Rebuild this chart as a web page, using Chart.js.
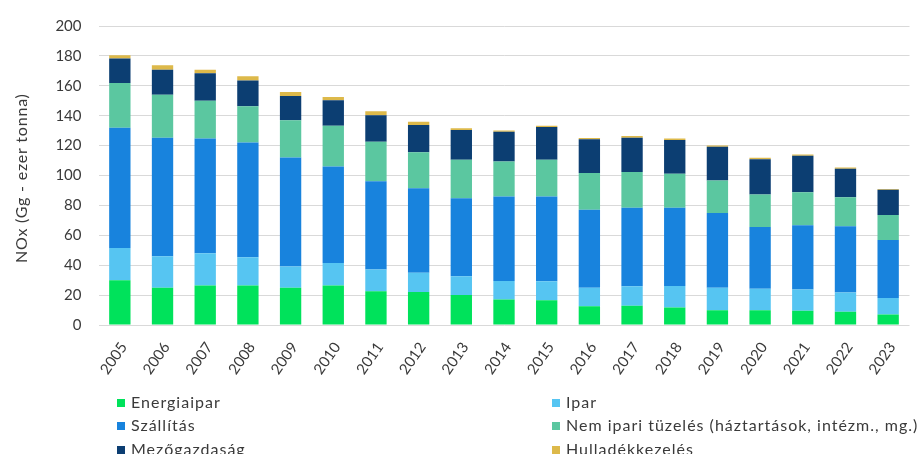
<!DOCTYPE html>
<html>
<head>
<meta charset="utf-8">
<script src="https://cdn.jsdelivr.net/npm/chart.js@4.4.1/dist/chart.umd.min.js"></script>
<style>
  html, body { margin: 0; padding: 0; background: #ffffff; }
  #wrap { position: relative; width: 920px; height: 454px; overflow: hidden; }
  #c { position: absolute; left: 0; top: 0; }
  .lg { position: absolute; font-family: Lato, "Open Sans", sans-serif; font-size: 16px; letter-spacing: 1px; color: #3a3a3a; white-space: nowrap; line-height: 18px; }
  .lg span.sw { display: inline-block; width: 8px; height: 8px; margin-right: 6px; vertical-align: 1px; }
  #ytitle { position: absolute; font-family: Lato, "Open Sans", sans-serif; font-size: 16px; color: #3a3a3a; white-space: nowrap; line-height: 16px; transform-origin: center center; }
</style>
</head>
<body>
<div id="wrap">
  <canvas id="c" width="920" height="454"></canvas>
  <div id="legend"></div>
  <div id="ytitle"></div>
</div>
<script>
const years = ["2005","2006","2007","2008","2009","2010","2011","2012","2013","2014","2015","2016","2017","2018","2019","2020","2021","2022","2023"];
const energiaipar = [30, 25, 26.5, 26.5, 25, 26.5, 22.5, 22, 20, 17, 16.6, 12.6, 12.8, 11.7, 9.9, 9.9, 9.5, 8.8, 7.1];
const ipar = [21.5, 21, 21.5, 18.8, 14.1, 15, 14.6, 12.9, 12.6, 12.4, 12.6, 12.4, 13.1, 14.4, 15.1, 14.4, 14.2, 12.9, 11];
const szallitas = [80.4, 79.3, 76.8, 76.7, 72.9, 64.5, 59, 56.6, 52.2, 56.6, 56.8, 52.1, 52.5, 52.3, 49.9, 41.3, 43.1, 44.4, 38.7];
const nemIpari = [30, 28.7, 25.2, 24.3, 25, 27.2, 26.5, 24.1, 25.8, 23.4, 24.5, 24.5, 23.9, 22.8, 21.7, 21.7, 22, 19.4, 16.8];
const mezogazdasag = [16.3, 16.8, 18.4, 17.2, 16.1, 17.1, 17.7, 18.1, 19.9, 19.9, 21.9, 22.6, 23, 22.5, 22.7, 23.6, 24.4, 19, 16.8];
const hulladek = [2.2, 3, 2.4, 2.9, 2.7, 2.2, 2.7, 2.2, 1.1, 0.8, 0.8, 0.9, 1.1, 1.1, 0.7, 0.9, 0.8, 0.9, 0.6];
const seriesNames = ["Energiaipar", "Ipar", "Szállítás", "Nem ipari tüzelés (háztartások, intézm., mg.)", "Mezőgazdaság", "Hulladékkezelés"];
const yTicks = [0, 20, 40, 60, 80, 100, 120, 140, 160, 180, 200];
const yTitle = "NOx (Gg - ezer tonna)";

const colors = ["#00E25B", "#56C5F2", "#1883DD", "#5BC7A0", "#0C3E72", "#DDB94A"];
const values = [energiaipar, ipar, szallitas, nemIpari, mezogazdasag, hulladek];

const datasets = values.map((v, i) => ({
  label: seriesNames[i],
  data: v,
  backgroundColor: colors[i],
  borderWidth: 0,
  categoryPercentage: 0.5,
  barPercentage: 1.0
}));

const canvas = document.getElementById('c');
const ctx = canvas.getContext('2d');
if ('letterSpacing' in ctx) ctx.letterSpacing = '1px';

const FONT = "Lato, 'Open Sans', sans-serif";
const chart = new Chart(ctx, {
  type: 'bar',
  data: { labels: years, datasets: datasets },
  options: {
    responsive: false,
    animation: false,
    devicePixelRatio: 1,
    layout: { padding: { left: 0, right: 10.5, top: 23, bottom: 75 } },
    plugins: { legend: { display: false }, tooltip: { enabled: false } },
    scales: {
      x: {
        stacked: true,
        grid: { display: false, drawTicks: false },
        border: { display: false },
        ticks: {
          color: '#3a3a3a',
          font: { family: FONT, size: 15 },
          minRotation: 55, maxRotation: 55,
          padding: 14,
          labelOffset: 4,
          autoSkip: false
        },
        afterFit: (s) => { s.height = 54; }
      },
      y: {
        stacked: true,
        min: 0, max: 200,
        afterBuildTicks: (s) => { s.ticks = yTicks.map(v => ({ value: v })); },
        grid: { color: '#D9D9D9', lineWidth: 1, drawTicks: false },
        border: { display: false },
        ticks: { color: '#3a3a3a', font: { family: FONT, size: 15 }, padding: 17 },
        afterFit: (s) => { s.width = 98.5; }
      }
    }
  }
});

// Rotated y-axis title (HTML text), centred on the chart area
const yt = document.getElementById('ytitle');
yt.textContent = yTitle;
const mctx = document.createElement('canvas').getContext('2d');
mctx.font = "16px " + FONT;
const natural = mctx.measureText(yTitle).width;
const targetLen = 170;
const ls = Math.max(0, (targetLen - natural) / yTitle.length);
yt.style.letterSpacing = ls.toFixed(2) + 'px';
const ytW = natural + ls * yTitle.length;
const ca = chart.chartArea;
const cy = (ca.top + ca.bottom) / 2 + 2;
yt.style.width = ytW + 'px';
yt.style.left = (20.5 - ytW / 2) + 'px';
yt.style.top = (cy - 8) + 'px';
yt.style.transform = 'rotate(-90deg)';

// HTML legend built from chart datasets, two columns, row-major order
const leg = document.getElementById('legend');
const colX = [117, 552];
const rowY = [393, 416, 440];
chart.data.datasets.forEach((ds, i) => {
  const d = document.createElement('div');
  d.className = 'lg';
  d.style.left = colX[i % 2] + 'px';
  d.style.top = rowY[Math.floor(i / 2)] + 'px';
  const sw = document.createElement('span');
  sw.className = 'sw';
  sw.style.background = ds.backgroundColor;
  d.appendChild(sw);
  d.appendChild(document.createTextNode(ds.label));
  leg.appendChild(d);
});
</script>
</body>
</html>
